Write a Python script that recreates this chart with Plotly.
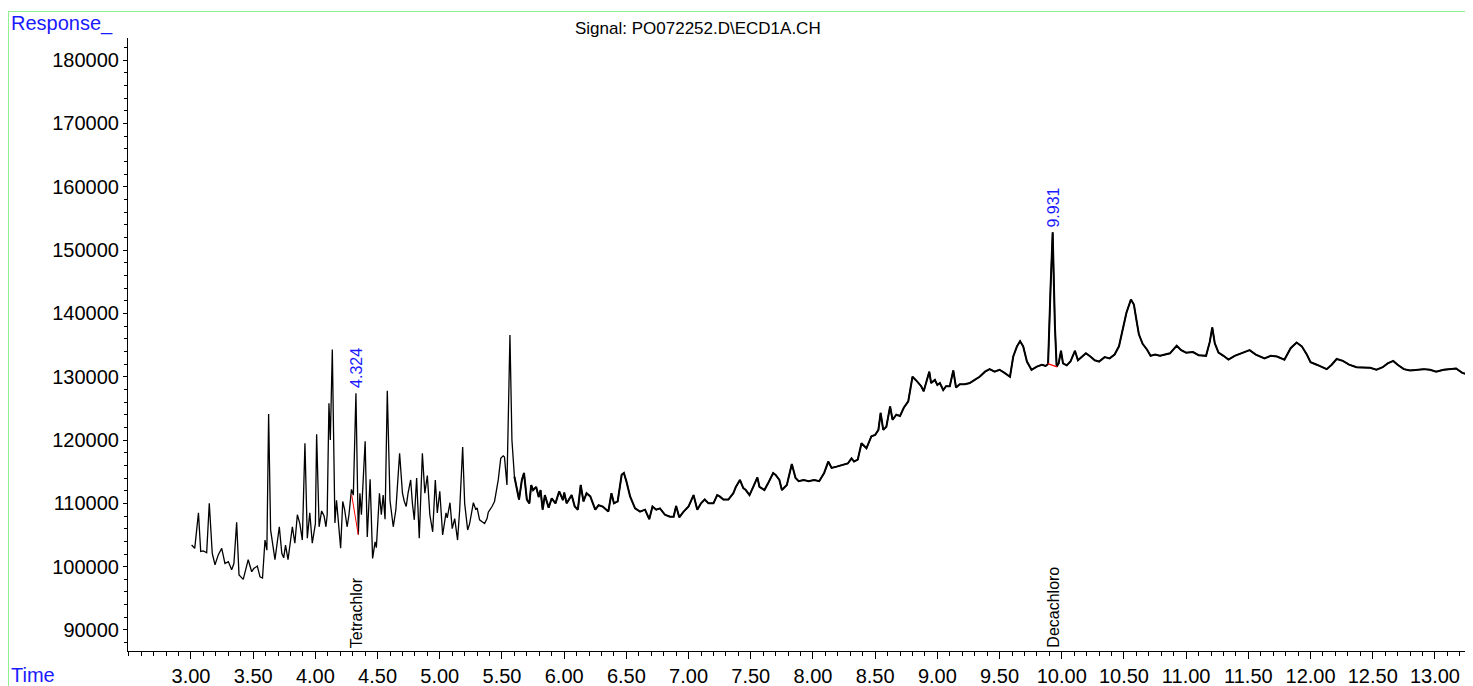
import plotly.graph_objects as go

# ---------------- data ----------------
time_min = [
    3.005, 3.03, 3.06, 3.078, 3.10, 3.126, 3.147, 3.171, 3.193, 3.22, 3.247, 3.273, 3.30, 3.327, 3.345,
    3.367, 3.386, 3.42, 3.46, 3.488, 3.505, 3.533, 3.555, 3.575, 3.595, 3.61, 3.624, 3.64, 3.675, 3.71,
    3.73, 3.745, 3.76, 3.78, 3.815, 3.835, 3.855, 3.875, 3.895, 3.916, 3.935, 3.955, 3.975, 4.00, 4.01,
    4.03, 4.05, 4.07, 4.085, 4.095, 4.109, 4.12, 4.136, 4.157, 4.17, 4.18, 4.203, 4.22, 4.235, 4.255,
    4.27, 4.29, 4.305, 4.326, 4.345, 4.358, 4.37, 4.40, 4.417, 4.44, 4.46, 4.48, 4.49, 4.515, 4.53,
    4.545, 4.56, 4.578, 4.60, 4.626, 4.647, 4.677, 4.70, 4.715, 4.73, 4.745, 4.766, 4.78, 4.795, 4.814,
    4.835, 4.86, 4.88, 4.90, 4.92, 4.943, 4.964, 4.98, 5.00, 5.023, 5.05, 5.06, 5.082, 5.10, 5.12,
    5.143, 5.16, 5.184, 5.20, 5.224, 5.24, 5.27, 5.29, 5.30, 5.32, 5.34, 5.36, 5.38, 5.39, 5.42,
    5.44, 5.47, 5.49, 5.51, 5.52, 5.54, 5.564, 5.58, 5.60, 5.637, 5.66, 5.677, 5.70, 5.72, 5.735,
    5.75, 5.775, 5.795, 5.81, 5.827, 5.845, 5.875, 5.90, 5.93, 5.96, 5.99, 6.00, 6.02, 6.06, 6.085,
    6.11, 6.133, 6.155, 6.18, 6.21, 6.25, 6.277, 6.31, 6.355, 6.38, 6.40, 6.43, 6.462, 6.48, 6.50,
    6.53, 6.57, 6.61, 6.65, 6.684, 6.71, 6.74, 6.77, 6.81, 6.85, 6.88, 6.90, 6.925, 6.96, 7.00,
    7.04, 7.07, 7.10, 7.13, 7.16, 7.20, 7.23, 7.25, 7.28, 7.32, 7.36, 7.38, 7.413, 7.44, 7.46,
    7.49, 7.52, 7.553, 7.57, 7.61, 7.64, 7.68, 7.70, 7.73, 7.75, 7.79, 7.83, 7.86, 7.885, 7.925,
    7.965, 8.01, 8.05, 8.09, 8.123, 8.15, 8.19, 8.245, 8.28, 8.31, 8.33, 8.36, 8.372, 8.39, 8.43,
    8.47, 8.50, 8.526, 8.544, 8.565, 8.59, 8.62, 8.64, 8.67, 8.70, 8.73, 8.766, 8.80, 8.835, 8.87,
    8.89, 8.91, 8.935, 8.95, 8.98, 9.00, 9.02, 9.047, 9.07, 9.10, 9.128, 9.15, 9.18, 9.22, 9.26,
    9.30, 9.34, 9.383, 9.42, 9.46, 9.50, 9.54, 9.584, 9.61, 9.64, 9.665, 9.69, 9.72, 9.757, 9.80,
    9.84, 9.87, 9.89, 9.91, 9.927, 9.945, 9.959, 9.975, 9.994, 10.01, 10.04, 10.07, 10.106, 10.13, 10.16,
    10.194, 10.23, 10.265, 10.30, 10.345, 10.385, 10.425, 10.46, 10.49, 10.52, 10.556, 10.58, 10.60, 10.62, 10.65,
    10.685, 10.714, 10.75, 10.79, 10.83, 10.87, 10.924, 10.96, 11.00, 11.055, 11.10, 11.16, 11.19, 11.21, 11.23,
    11.26, 11.30, 11.34, 11.39, 11.45, 11.51, 11.56, 11.63, 11.68, 11.73, 11.79, 11.84, 11.888, 11.93, 11.97,
    12.00, 12.05, 12.09, 12.13, 12.17, 12.21, 12.26, 12.31, 12.37, 12.42, 12.48, 12.53, 12.58, 12.62, 12.665,
    12.70, 12.75, 12.80, 12.85, 12.91, 12.96, 13.01, 13.07, 13.12, 13.17, 13.22, 13.26, 13.295,
]
response = [
    103430, 102900, 108500, 102400, 102500, 102200, 110000, 102100, 100300, 101900, 102900, 100500, 100800, 99500, 100500,
    107000, 98700, 98000, 101100, 99200, 99700, 100100, 98400, 98200, 104200, 102600, 124100, 105800, 101100, 106300,
    102100, 101400, 103400, 101100, 106300, 103700, 108200, 106800, 104200, 119500, 104500, 108500, 103700, 106800, 120900,
    106300, 108800, 108000, 106300, 108200, 125800, 120000, 134300, 106900, 110500, 108000, 102900, 110300, 109000, 106300,
    108200, 112200, 111300, 127400, 105100, 111600, 108200, 119800, 104700, 113800, 101300, 103900, 103000, 111600, 108200,
    111300, 107500, 127800, 110400, 106300, 109000, 117900, 111600, 110300, 109500, 111600, 113700, 110000, 107400, 114000,
    104500, 117900, 111600, 114400, 108200, 105500, 113700, 108500, 111900, 105000, 108500, 107700, 110100, 106000, 107600,
    104200, 109000, 118900, 110000, 105800, 106800, 110100, 109000, 109300, 107400, 107100, 106800, 107600, 108600, 109500,
    110300, 113700, 117100, 117500, 117300, 112900, 136600, 120000, 114200, 110600, 113700, 114800, 110600, 110000, 112900,
    112100, 112600, 111000, 112100, 109000, 111300, 109300, 110800, 110000, 111900, 110500, 111700, 110000, 111300, 109500,
    109000, 112900, 110300, 111600, 111100, 109000, 109700, 109500, 108700, 111600, 110000, 110300, 114500, 114800, 113500,
    111100, 109200, 108700, 109000, 107500, 109500, 109000, 109200, 108200, 107900, 107900, 109600, 107800, 108700, 109500,
    111300, 109000, 110000, 110600, 110000, 110000, 111300, 111100, 110600, 110600, 111600, 112600, 113700, 112400, 112100,
    111300, 112600, 114100, 112600, 112100, 113200, 114800, 114500, 113700, 112100, 112900, 116200, 114000, 113500, 113700,
    113500, 113700, 113500, 114800, 116600, 115600, 115800, 116100, 116300, 117100, 116600, 116900, 118000, 119500, 118700,
    120600, 120800, 121600, 124300, 121600, 122100, 125300, 123200, 124000, 123800, 125100, 126100, 130000, 129300, 128500,
    127700, 129000, 130800, 129000, 129500, 128700, 129000, 127900, 128500, 128500, 131000, 128300, 128800, 128800, 129000,
    129500, 130000, 130800, 131200, 130800, 131100, 130600, 130000, 133200, 134800, 135600, 134800, 132400, 131100, 131600,
    131900, 131700, 132000, 144000, 152800, 138000, 131600, 132100, 134100, 132100, 131800, 132400, 134100, 132600, 133100,
    133700, 133200, 132600, 132400, 133100, 132900, 133500, 134800, 137400, 140100, 142200, 141400, 139000, 136700, 135200,
    134300, 133300, 133500, 133300, 133500, 133700, 134900, 134200, 133800, 133900, 133400, 133300, 135500, 137800, 135300,
    133800, 133300, 132700, 133300, 133700, 134200, 133500, 132900, 133300, 133200, 132700, 134500, 135400, 134800, 133500,
    132300, 131900, 131500, 131200, 131900, 132800, 132500, 131900, 131500, 131500, 131400, 131100, 131500, 132100, 132500,
    131900, 131200, 131000, 131100, 131200, 131100, 130800, 131100, 131200, 131300, 130600, 130400, 130100,
]

# integration baselines (red)
baseline1_t = [4.292, 4.345]
baseline1_y = [111300, 105000]
baseline2_t = [9.887, 9.962]
baseline2_y = [132070, 131550]

# labelled peaks
peak_times = [4.324, 9.931]
peak_heights = [127400, 152800]
peak_labels = ["4.324", "9.931"]
compound_names = ["Tetrachlor", "Decachloro"]
compound_times = [4.332, 9.931]

# axis ticks
x_tick_vals = [3.0 + 0.5 * i for i in range(21)]
x_tick_text = ["%.2f" % v for v in x_tick_vals]
y_tick_vals = [90000 + 10000 * i for i in range(10)]
y_tick_text = [str(v) for v in y_tick_vals]

FONT = "Liberation Sans, Arial, sans-serif"
BLUE = "#1a1aff"

# the page has an 8px body margin; figure is sized so that the plot lands where the reference has it
W, H = 1465, 678
ML, MR, MT, MB = 120, 0, 30, 35
PW, PH = W - ML - MR, H - MT - MB


def px_x(px):  # page pixel -> paper x
    return (px - 8 - ML) / PW


def px_y(py):  # page pixel -> paper y
    return (H - MB - (py - 8)) / PH


fig = go.Figure()
fig.add_trace(go.Scatter(x=time_min, y=response, mode="lines",
                         line=dict(color="black", width=1.3), showlegend=False))
late_t = [t for t in time_min if t >= 5.6]
late_y = [r for t, r in zip(time_min, response) if t >= 5.6]
fig.add_trace(go.Scatter(x=late_t, y=late_y, mode="lines",
                         line=dict(color="black", width=2.0), showlegend=False, hoverinfo="skip"))
fig.add_trace(go.Scatter(x=baseline1_t, y=baseline1_y, mode="lines",
                         line=dict(color="red", width=1), showlegend=False))
fig.add_trace(go.Scatter(x=baseline2_t, y=baseline2_y, mode="lines",
                         line=dict(color="red", width=1.3), showlegend=False))

annotations = []
for t, h, lab in zip(peak_times, peak_heights, peak_labels):
    annotations.append(dict(x=t, y=h, xref="x", yref="y", text=lab, showarrow=False,
                            textangle=-90, xanchor="center", yanchor="bottom", yshift=3,
                            font=dict(family=FONT, size=16, color=BLUE)))
for t, name in zip(compound_times, compound_names):
    annotations.append(dict(x=t, y=0, xref="x", yref="paper", text=name, showarrow=False,
                            textangle=-90, xanchor="center", yanchor="bottom", yshift=1,
                            font=dict(family=FONT, size=16, color="black")))
annotations.append(dict(x=px_x(9), y=px_y(24), xref="paper", yref="paper", text="Response_",
                        showarrow=False, xanchor="left", yanchor="middle",
                        font=dict(family=FONT, size=20, color=BLUE)))
annotations.append(dict(x=px_x(9), y=px_y(675), xref="paper", yref="paper", text="Time",
                        showarrow=False, xanchor="left", yanchor="middle",
                        font=dict(family=FONT, size=20, color=BLUE)))
annotations.append(dict(x=px_x(698), y=px_y(28), xref="paper", yref="paper",
                        text="Signal: PO072252.D\\ECD1A.CH", showarrow=False,
                        xanchor="center", yanchor="middle",
                        font=dict(family=FONT, size=17, color="black")))

green = "#8ff08f"
shapes = [
    dict(type="line", xref="paper", yref="paper", x0=px_x(8), x1=1.0, y0=px_y(11.5), y1=px_y(11.5),
         line=dict(color=green, width=1)),
    dict(type="line", xref="paper", yref="paper", x0=px_x(8.5), x1=px_x(8.5), y0=px_y(11.5), y1=px_y(690),
         line=dict(color=green, width=1)),
]

fig.update_layout(
    width=W, height=H,
    margin=dict(l=ML, r=MR, t=MT, b=MB, pad=0),
    paper_bgcolor="white", plot_bgcolor="white",
    annotations=annotations,
    shapes=shapes,
    showlegend=False,
    xaxis=dict(range=[2.4936, 13.306], showgrid=False, zeroline=False,
               showline=True, linecolor="black", linewidth=1,
               tickmode="array", tickvals=x_tick_vals, ticktext=x_tick_text,
               ticks="outside", ticklen=7, tickcolor="black", tickwidth=1,
               minor=dict(dtick=0.1, tick0=0, ticks="outside", ticklen=4, tickcolor="black", tickwidth=1),
               tickfont=dict(family=FONT, size=20, color="black")),
    yaxis=dict(range=[86680, 183500], showgrid=False, zeroline=False,
               showline=True, linecolor="black", linewidth=1,
               tickmode="array", tickvals=y_tick_vals, ticktext=y_tick_text,
               ticks="outside", ticklen=4, tickcolor="black", tickwidth=1,
               minor=dict(dtick=2000, tick0=0, ticks="outside", ticklen=3, tickcolor="black", tickwidth=1),
               tickfont=dict(family=FONT, size=20, color="black")),
)

fig.write_html("out.html")
